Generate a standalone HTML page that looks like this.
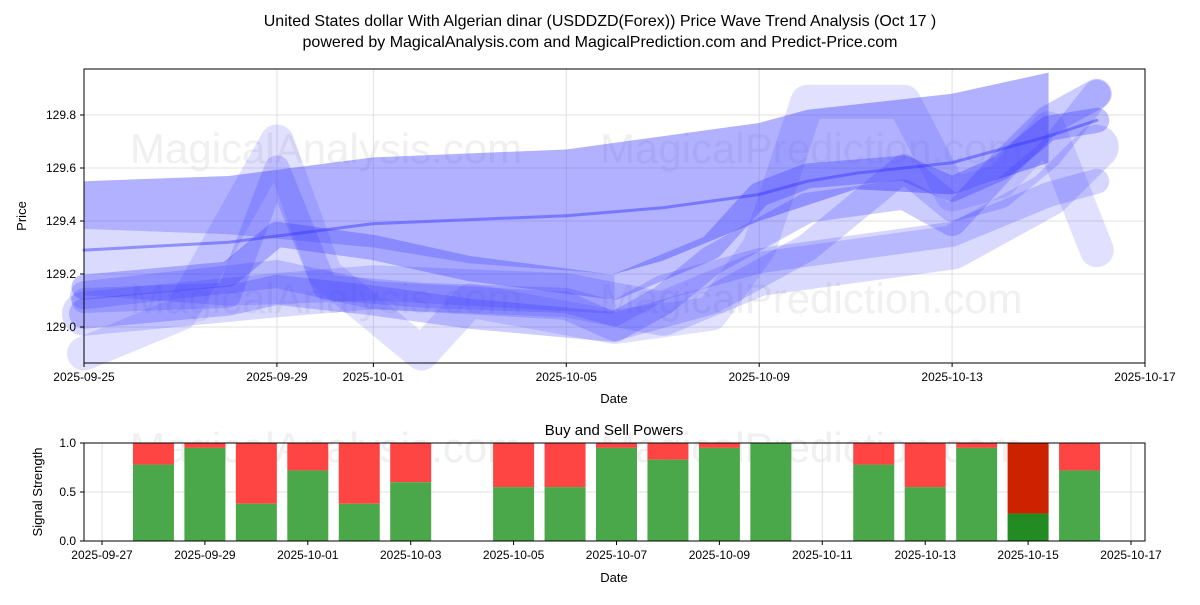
<!DOCTYPE html>
<html><head><meta charset="utf-8"><style>
body{margin:0;background:#fff;}
svg{font-family:"Liberation Sans","DejaVu Sans",sans-serif;}
</style></head><body>
<svg width="1200" height="600" viewBox="0 0 1200 600" xmlns="http://www.w3.org/2000/svg">
<text x="600" y="26" text-anchor="middle" font-size="16">United States dollar With Algerian dinar (USDDZD(Forex)) Price Wave Trend Analysis (Oct 17 )</text>
<text x="600" y="47" text-anchor="middle" font-size="16">powered by MagicalAnalysis.com and MagicalPrediction.com and Predict-Price.com</text>
<g id="topchart"></g>
<g id="botchart"></g>
</svg>
<script>
const NS="http://www.w3.org/2000/svg";
const priceTicks=[129.0,129.2,129.4,129.6,129.8];
const dateTicksTop=["2025-09-25","2025-09-29","2025-10-01","2025-10-05","2025-10-09","2025-10-13","2025-10-17"];
const dateTickDaysTop=[0,4,6,10,14,18,22];
const bandUpper=[[0,129.55],[3,129.57],[6,129.64],[10,129.67],[12,129.72],[14,129.77],[15,129.82],[18,129.88],[20,129.96]];
const bandLower=[[20,129.62],[18,129.5],[16,129.52],[14,129.4],[12,129.25],[11,129.2],[8,129.24],[6,129.3],[3,129.35],[0,129.37]];
const band2Upper=[[0,129.37],[3,129.35],[6,129.3],[8,129.24],[11,129.2]];
const band2Lower=[[11,129.05],[8,129.08],[6,129.1],[3,129.08],[0,129.12]];
const centerLine=[[0,129.29],[3,129.32],[6,129.39],[10,129.42],[12,129.45],[14,129.5],[15,129.55],[16,129.58],[18,129.62],[20,129.72],[21,129.78]];
const waveA=[[0,129.15],[3,129.2],[4,129.35],[6,129.3],[8,129.22],[11,129.15],[13,129.3],[14,129.5],[15,129.57],[17,129.6],[18,129.52],[19,129.6],[20,129.75],[21,129.78]];
const waveB=[[0,129.05],[3,129.1],[4,129.14],[6,129.1],[8,129.05],[11,129.0],[12,129.1],[13,129.25],[15,129.45],[17,129.5],[18,129.4],[19,129.6],[20,129.78],[21,129.88]];
const waveC=[[0,129.1],[3,129.12],[4,129.6],[5,129.15],[7,129.12],[10,129.1],[11,129.05],[12,129.15],[14,129.25],[16,129.3],[18,129.35],[20,129.5],[21,129.55]];
const waveD=[[0,128.9],[2,129.05],[4,129.7],[5,129.2],[7,128.9],[8,129.1],[11,129.0],[13,129.05],[14,129.3],[15,129.85],[17,129.85],[18,129.5],[19,129.55],[20,129.75],[21,129.29]];
const waveE=[[0,129.05],[4,129.12],[6,129.15],[10,129.12],[12,129.05],[14,129.2],[16,129.25],[18,129.3],[20,129.5],[21,129.68]];
const waveF=[[0,129.12],[4,129.2],[6,129.12],[10,129.08],[11,129.0],[13,129.1],[15,129.3],[17,129.6],[18,129.45],[19,129.5],[20,129.65],[21,129.88]];
const barDays=[1,2,3,4,5,6,8,9,10,11,12,13,15,16,17,18,19];
const buyVals=[0.78,0.95,0.38,0.72,0.38,0.6,0.55,0.55,0.95,0.83,0.95,1.0,0.78,0.55,0.95,0.28,0.72];
const sigTicks=[0.0,0.5,1.0];
const botDateLabels=["2025-09-27","2025-09-29","2025-10-01","2025-10-03","2025-10-05","2025-10-07","2025-10-09","2025-10-11","2025-10-13","2025-10-15","2025-10-17"];
const botDateDays=[0,2,4,6,8,10,12,14,16,18,20];

function el(tag,attrs,parent,txt){const e=document.createElementNS(NS,tag);for(const k in attrs)e.setAttribute(k,attrs[k]);if(txt!==undefined)e.textContent=txt;parent.appendChild(e);return e;}
const T={x0:84,x1:1145,y0:69,y1:363};
const tx=d=>84+d*(1061/22);
const ty=v=>327-(v-129.0)*(212/0.8);
const topG=document.getElementById('topchart');
priceTicks.forEach(v=>{const l=el('line',{x1:T.x0,x2:T.x1,y1:ty(v),y2:ty(v),stroke:'#e0e0e0'},topG);

});
dateTickDaysTop.forEach(d=>{const l=el('line',{x1:tx(d),x2:tx(d),y1:T.y0,y2:T.y1,stroke:'#e0e0e0'},topG);

});
[[130,163,'MagicalAnalysis.com'],[600,163,'MagicalPrediction.com'],[130,313,'MagicalAnalysis.com'],[600,313,'MagicalPrediction.com']].forEach(w=>{
const t=el('text',{x:w[0],y:w[1],'font-size':42,fill:'#ddd','fill-opacity':0.45},topG,w[2]);

});
const pts=bandUpper.concat(bandLower).map(p=>tx(p[0])+','+ty(p[1])).join(' ');
const band=el('polygon',{points:pts,fill:'#4444ff','fill-opacity':0.42},topG);


const pts2=band2Upper.concat(band2Lower).map(p=>tx(p[0])+','+ty(p[1])).join(' ');
const band2=el('polygon',{points:pts2,fill:'#4444ff','fill-opacity':0.2},topG);


function line(data,w,op,name){const p=el('polyline',{points:data.map(q=>tx(q[0])+','+ty(q[1])).join(' '),fill:'none',stroke:'#3333ff','stroke-width':w,'stroke-opacity':op,'stroke-linecap':'round','stroke-linejoin':'round'},topG);

}
line(waveD,34,0.15,'wave-d');line(waveE,44,0.18,'wave-e');line(waveC,25,0.2,'wave-c');
line(waveF,28,0.2,'wave-f');line(waveB,30,0.25,'wave-b');line(waveA,25,0.3,'wave-a');
line(centerLine,3,0.45,'center-trend-line');
const fr=el('rect',{x:T.x0,y:T.y0,width:T.x1-T.x0,height:T.y1-T.y0,fill:'none',stroke:'#000'},topG);


priceTicks.forEach(v=>{el('line',{x1:T.x0-4,x2:T.x0,y1:ty(v),y2:ty(v),stroke:'#000'},topG);
const t=el('text',{x:T.x0-8,y:ty(v)+4,'text-anchor':'end','font-size':12},topG,v.toFixed(1));

});
dateTicksTop.forEach((s,i)=>{const x=tx(dateTickDaysTop[i]);el('line',{x1:x,x2:x,y1:T.y1,y2:T.y1+4,stroke:'#000'},topG);
const t=el('text',{x:x,y:T.y1+18,'text-anchor':'middle','font-size':12},topG,s);

});
const xt=el('text',{x:614,y:403,'text-anchor':'middle','font-size':13},topG,'Date');


const yt=el('text',{x:26,y:216,'text-anchor':'middle','font-size':13,transform:'rotate(-90 26 216)'},topG,'Price');



const botG=document.getElementById('botchart');
const B={x0:84,x1:1145,y0:443,y1:541};
const bx=d=>102+d*(1029/20);
const by=v=>B.y1-v*(B.y1-B.y0);
sigTicks.forEach(v=>{const l=el('line',{x1:B.x0,x2:B.x1,y1:by(v),y2:by(v),stroke:'#e0e0e0'},botG);

});
botDateDays.forEach(d=>{const l=el('line',{x1:bx(d),x2:bx(d),y1:B.y0,y2:B.y1,stroke:'#e0e0e0'},botG);

});
[[130,462,'MagicalAnalysis.com'],[600,462,'MagicalPrediction.com']].forEach(w=>{
const t=el('text',{x:w[0],y:w[1],'font-size':42,fill:'#ddd','fill-opacity':0.45},botG,w[2]);

});
barDays.forEach((d,i)=>{const v=buyVals[i];const x=bx(d)-20.5;
const dark=v<0.3;
const r=el('rect',{x:x,y:by(1),width:41,height:by(v)-by(1),fill:dark?'#cc2200':'#ff4444'},botG);


const g=el('rect',{x:x,y:by(v),width:41,height:B.y1-by(v),fill:dark?'#228b22':'#4aa84a'},botG);

});
const fr2=el('rect',{x:B.x0,y:B.y0,width:B.x1-B.x0,height:B.y1-B.y0,fill:'none',stroke:'#000'},botG);


sigTicks.forEach(v=>{el('line',{x1:B.x0-4,x2:B.x0,y1:by(v),y2:by(v),stroke:'#000'},botG);
const t=el('text',{x:B.x0-8,y:by(v)+4,'text-anchor':'end','font-size':12},botG,v.toFixed(1));

});
botDateLabels.forEach((s,i)=>{const x=bx(botDateDays[i]);el('line',{x1:x,x2:x,y1:B.y1,y2:B.y1+4,stroke:'#000'},botG);
const t=el('text',{x:x,y:B.y1+18,'text-anchor':'middle','font-size':12},botG,s);

});
const st=el('text',{x:614,y:435,'text-anchor':'middle','font-size':15},botG,'Buy and Sell Powers');


const sx=el('text',{x:614,y:582,'text-anchor':'middle','font-size':13},botG,'Date');


const sy=el('text',{x:42,y:492,'text-anchor':'middle','font-size':13,transform:'rotate(-90 42 492)'},botG,'Signal Strength');


</script>
</body></html>
